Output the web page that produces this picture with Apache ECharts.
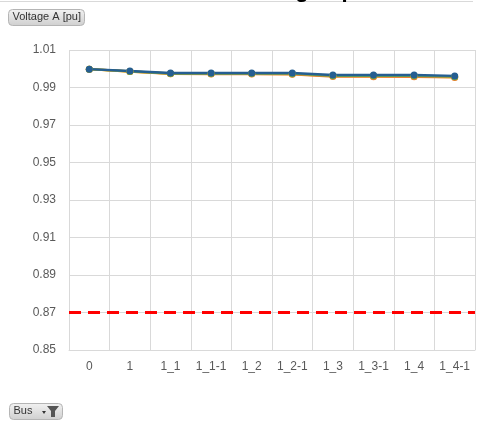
<!DOCTYPE html>
<html>
<head>
<meta charset="utf-8">
<script src="https://cdn.jsdelivr.net/npm/echarts@6/dist/echarts.min.js"></script>
<style>
  html, body { margin: 0; padding: 0; background: #fff; }
  #chart { width: 481px; height: 421px; }
</style>
</head>
<body>
<div id="chart"></div>
<script>
// buses on the x axis
const buses = ['0', '1', '1_1', '1_1-1', '1_2', '1_2-1', '1_3', '1_3-1', '1_4', '1_4-1'];
// voltage A [pu], one line per pivot series
const seriesYellow = [0.9998, 0.9985, 0.9974, 0.9973, 0.9973, 0.9972, 0.9961, 0.9960, 0.9959, 0.9956];
const seriesOrange = [0.9998, 0.9985, 0.9973, 0.9972, 0.9972, 0.9971, 0.9959, 0.9958, 0.9957, 0.9954];
const seriesGreen  = [0.9998, 0.9986, 0.9975, 0.9975, 0.9975, 0.9974, 0.9963, 0.9963, 0.9963, 0.9958];
const seriesBlue   = [0.9998, 0.9988, 0.9977, 0.9977, 0.9977, 0.9977, 0.9967, 0.9967, 0.9967, 0.9962];
const limit = 0.87;

const chart = echarts.init(document.getElementById('chart'));

function line(name, data, color) {
  return {
    name: name,
    type: 'line',
    data: data,
    symbol: 'circle',
    symbolSize: 7,
    lineStyle: { width: 2.5, color: color },
    itemStyle: { color: color },
    animation: false
  };
}

// pivot buttons
function button(x, y, w, h, label) {
  return {
    type: 'group',
    left: x, top: y,
    children: [
      {
        type: 'rect',
        shape: { x: 0, y: 0, width: w, height: h, r: 4 },
        style: {
          fill: new echarts.graphic.LinearGradient(0, 0, 0, 1, [
            { offset: 0, color: '#f2f2f2' },
            { offset: 1, color: '#cfcfcf' }
          ]),
          stroke: '#b5b5b5', lineWidth: 1
        }
      },
      {
        type: 'text',
        left: 4, top: 2,
        style: { text: label, font: '11px "Liberation Sans"', fill: '#333' }
      }
    ]
  };
}

const option = {
  animation: false,
  grid: { left: 69, right: 6, top: 50, bottom: 71, containLabel: false },
  xAxis: {
    type: 'category',
    data: buses,
    boundaryGap: true,
    axisLine: { show: true, lineStyle: { color: '#d9d9d9' } },
    axisTick: { show: false },
    splitLine: { show: true, lineStyle: { color: '#d9d9d9' } },
    axisLabel: { color: '#595959', fontSize: 12, fontFamily: 'Liberation Sans', margin: 11, interval: 0 }
  },
  yAxis: {
    type: 'value',
    min: 0.85, max: 1.01, interval: 0.02,
    axisLine: { show: false },
    axisTick: { show: false },
    splitLine: { show: true, lineStyle: { color: '#d9d9d9' } },
    axisLabel: {
      color: '#595959', fontSize: 12, fontFamily: 'Liberation Sans', margin: 13,
      formatter: v => v.toFixed(2)
    }
  },
  series: [
    line('Phase 4', seriesYellow, '#ffc000'),
    line('Phase 3', seriesOrange, '#ed7d31'),
    line('Phase 2', seriesGreen, '#70ad47'),
    Object.assign(line('Phase 1', seriesBlue, '#255e91'), {
      markLine: {
        silent: true,
        symbol: 'none',
        label: { show: false },
        lineStyle: { color: '#ff0000', type: [12, 7], width: 3 },
        data: [{ yAxis: limit }]
      }
    })
  ],
  graphic: [
    {
      type: 'line',
      shape: { x1: 0, y1: 1.5, x2: 473, y2: 1.5 },
      style: { stroke: '#d9d9d9', lineWidth: 1 }
    },
    {
      type: 'text',
      left: 243, top: -20,
      style: { text: 'Voltage Spread', font: 'bold 22px "Liberation Sans"', fill: '#000' }
    },
    button(8, 9, 76, 16, 'Voltage A [pu]'),
    button(9, 403, 53, 16, 'Bus'),
    {
      type: 'polygon',
      shape: { points: [[47, 406], [59, 406], [55, 411], [55, 417], [51, 417], [51, 411]] },
      style: { fill: '#555' }
    },
    {
      type: 'polygon',
      shape: { points: [[42, 411], [46, 411], [44, 414]] },
      style: { fill: '#333' }
    }
  ]
};

chart.setOption(option);
</script>
</body>
</html>
